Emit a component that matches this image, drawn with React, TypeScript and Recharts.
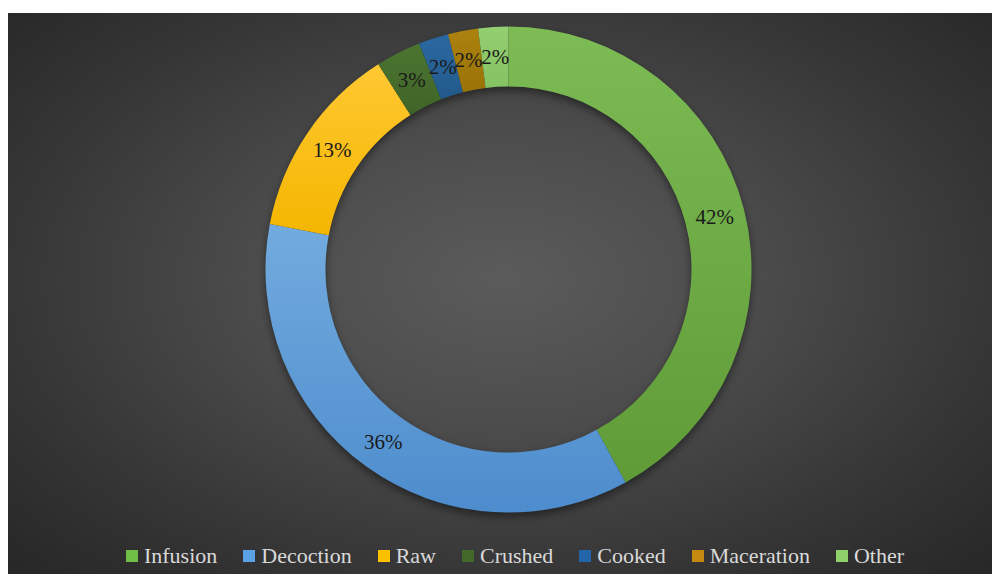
import { PieChart, Pie, Cell } from "recharts";

// Preparation methods and their share of reported uses (%)
const METHODS = ["Infusion", "Decoction", "Raw", "Crushed", "Cooked", "Maceration", "Other"];
const SHARES = [42, 36, 13, 3, 2, 2, 2];

// top / bottom stops of each slice's vertical gradient
const COLOR_TOP = ["#7dbb55", "#72abde", "#ffc832", "#4b7531", "#2b69a2", "#ac820f", "#94cf72"];
const COLOR_BOTTOM = ["#5f9c37", "#4d8ccd", "#f4b600", "#3f6427", "#22598a", "#9a7306", "#85c262"];
const LEGEND_COLORS = ["#6fbf45", "#5aa2e4", "#ffc000", "#43682b", "#2464a8", "#c48a10", "#8fd068"];

const W = 992;
const H = 566;
const CX = 495.5;
const CY = 251.5;
const R_OUT = 243;
const R_IN = 183;

const SERIF = "'Times New Roman', Tinos, 'Liberation Serif', 'DejaVu Serif'";

const data = METHODS.map((name, i) => ({ name, value: SHARES[i] }));
const ring = [{ name: "shadow", value: 1 }];

const RAD = Math.PI / 180;

function SliceLabel(props: any) {
  const { cx, cy, midAngle, innerRadius, outerRadius, value } = props;
  const r = (innerRadius + outerRadius) / 2;
  const x = cx + r * Math.cos(-midAngle * RAD);
  const y = cy + r * Math.sin(-midAngle * RAD);
  return (
    <text
      x={x}
      y={y}
      textAnchor="middle"
      dominantBaseline="central"
      fill="#1a1a1a"
      style={{ fontSize: 21, fontFamily: SERIF }}
    >
      {`${value}%`}
    </text>
  );
}

function LegendRow() {
  return (
    <div
      style={{
        position: "absolute",
        top: 530,
        left: 0,
        width: W,
        display: "flex",
        justifyContent: "center",
        alignItems: "center",
        gap: 26,
        paddingLeft: 22,
        boxSizing: "border-box",
        fontFamily: SERIF,
        fontSize: 22,
        color: "#d9d9d9",
        lineHeight: "26px",
      }}
    >
      {METHODS.map((m, i) => (
        <div key={m} style={{ display: "flex", alignItems: "center" }}>
          <span
            style={{
              display: "inline-block",
              width: 12,
              height: 12,
              background: LEGEND_COLORS[i],
              marginRight: 6,
            }}
          />
          <span style={{ fontFamily: SERIF }}>{m}</span>
        </div>
      ))}
    </div>
  );
}

export default function App() {
  return (
    <div
      style={{
        position: "relative",
        top: 5,
        width: W,
        height: H,
        background:
          "radial-gradient(ellipse farthest-corner at 50% 47%, #5b5b5b 0%, #4c4c4c 35%, #363636 70%, #262626 100%)",
      }}
    >
      <PieChart width={W} height={H}>
        <defs>
          {COLOR_TOP.map((c, i) => (
            <linearGradient key={i} id={`slice-${i}`} x1="0" y1="0" x2="0" y2="1">
              <stop offset="0%" stopColor={c} />
              <stop offset="100%" stopColor={COLOR_BOTTOM[i]} />
            </linearGradient>
          ))}
          <filter id="ringBlur" x="-20%" y="-20%" width="140%" height="140%">
            <feGaussianBlur stdDeviation="4" />
          </filter>
        </defs>
        {/* soft shadow under the ring */}
        <Pie
          data={ring}
          dataKey="value"
          cx={CX}
          cy={CY + 4}
          innerRadius={R_IN}
          outerRadius={R_OUT}
          startAngle={90}
          endAngle={-270}
          stroke="none"
          isAnimationActive={false}
          legendType="none"
        >
          <Cell fill="#000" fillOpacity={0.45} filter="url(#ringBlur)" />
        </Pie>
        <Pie
          data={data}
          dataKey="value"
          nameKey="name"
          cx={CX}
          cy={CY}
          innerRadius={R_IN}
          outerRadius={R_OUT}
          startAngle={90}
          endAngle={-270}
          stroke="none"
          label={SliceLabel}
          labelLine={false}
          isAnimationActive={false}
        >
          {data.map((d, i) => (
            <Cell key={d.name} fill={`url(#slice-${i})`} />
          ))}
        </Pie>
      </PieChart>
      <LegendRow />
    </div>
  );
}
